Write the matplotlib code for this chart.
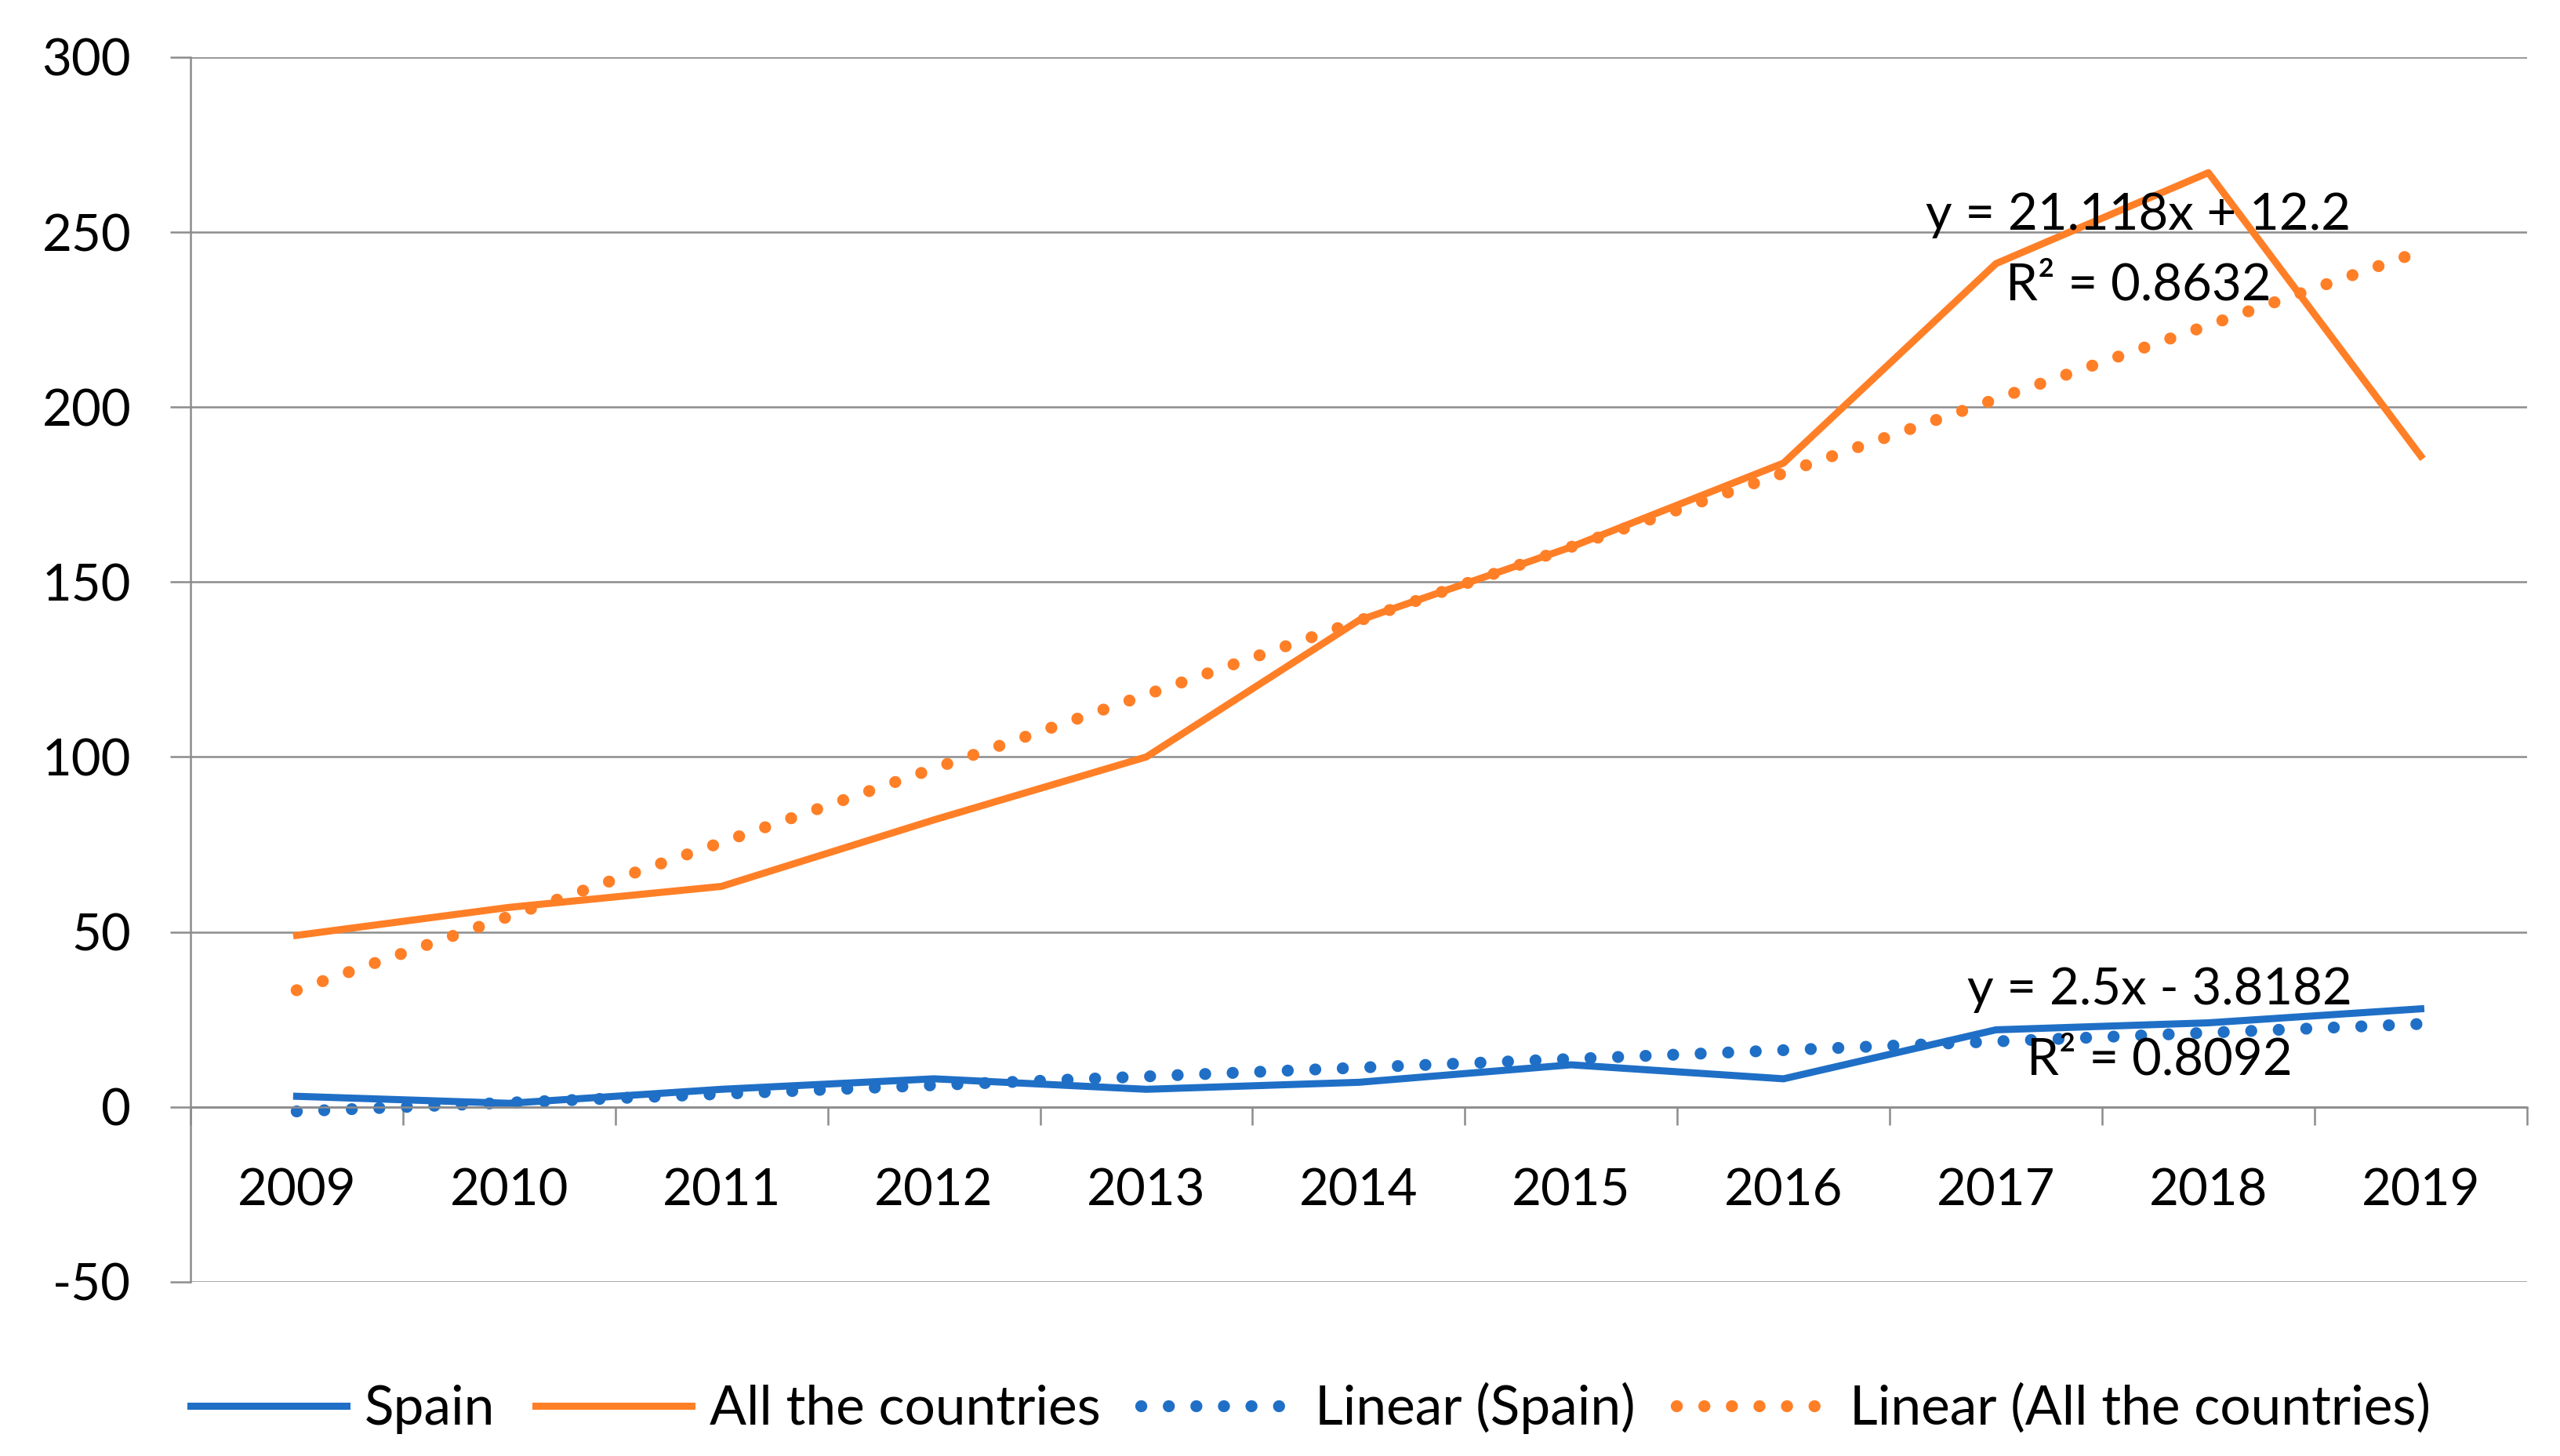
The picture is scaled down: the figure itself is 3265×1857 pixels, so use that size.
import numpy as np
import matplotlib
matplotlib.use('Agg')
import matplotlib.pyplot as plt

# Calibri-like look, fallback for anything Lato lacks
plt.rcParams['font.family'] = ['Lato', 'DejaVu Sans']
plt.rcParams['axes.unicode_minus'] = False

# data
years = ['2009', '2010', '2011', '2012', '2013', '2014', '2015', '2016', '2017', '2018', '2019']
spain = [3, 1, 5, 8, 5, 7, 12, 8, 22, 24, 28]
all_countries = [49, 57, 63, 82, 100, 139, 160, 184, 241, 267, 186]
series_names = ['Spain', 'All the countries']
spain_eq = ['y = 2.5x - 3.8182', 'R² = 0.8092']
all_eq = ['y = 21.118x + 12.2', 'R² = 0.8632']

blue = '#1f6fc6'
orange = '#ff7f27'
grid_col = '#8c8c8c'
fs = 47

x = np.arange(1, len(years) + 1)

# linear trend lines like excel does them
fit_spain = np.polyfit(x, spain, 1)
fit_all = np.polyfit(x, all_countries, 1)

fig = plt.figure(figsize=(32.65, 18.57), dpi=100)
ax = fig.add_axes([0.0744, 0.1197, 0.9127, 0.8410])

lw = 6.5
tlw = 11
dots = (0, (0.01, 2.29))
l1, = ax.plot(x, spain, color=blue, lw=lw, solid_joinstyle='round', label=series_names[0])
l2, = ax.plot(x, all_countries, color=orange, lw=lw, solid_joinstyle='round', label=series_names[1])
l3, = ax.plot(x, np.polyval(fit_spain, x), color=blue, lw=tlw, linestyle=dots,
              dash_capstyle='round', label='Linear (Spain)')
l4, = ax.plot(x, np.polyval(fit_all, x), color=orange, lw=tlw, linestyle=dots,
              dash_capstyle='round', label='Linear (All the countries)')

ax.set_xlim(0.5, 11.5)
ax.set_ylim(-50, 300)

# y axis + gridlines
ax.set_yticks(range(-50, 301, 50))
ax.yaxis.grid(True, color=grid_col, lw=1.8)
ax.set_axisbelow(True)
ax.tick_params(axis='y', direction='out', length=18.5, width=1.8, color=grid_col,
               labelsize=fs, pad=36)

# category axis sits at zero
for s in ['top', 'right']:
    ax.spines[s].set_visible(False)
ax.spines['left'].set_color(grid_col)
ax.spines['left'].set_linewidth(1.8)
ax.spines['bottom'].set_position(('data', 0))
ax.spines['bottom'].set_color(grid_col)
ax.spines['bottom'].set_linewidth(1.8)

ax.set_xticks(np.arange(0.5, 12, 1))
ax.set_xticklabels([])
ax.tick_params(axis='x', which='major', direction='out', length=16.5, width=1.8, color=grid_col)
ax.set_xticks(x, minor=True)
ax.set_xticklabels(years, minor=True)
ax.tick_params(axis='x', which='minor', length=0, labelsize=fs, pad=56)

# trend equations
ax.text(9.67, 254.8, all_eq[0], ha='center', va='center', fontsize=fs)
ax.text(9.67, 234.7, all_eq[1], ha='center', va='center', fontsize=fs)
ax.text(9.77, 33.4, spain_eq[0], ha='center', va='center', fontsize=fs)
ax.text(9.77, 13.4, spain_eq[1], ha='center', va='center', fontsize=fs)

fig.legend(handles=[l1, l2, l3, l4], loc='center', bbox_to_anchor=(0.512, 0.033),
           ncol=4, frameon=False, handlelength=2.87, handletextpad=0.32,
           columnspacing=0.75, fontsize=50)

fig.savefig('out.png', dpi=100)
